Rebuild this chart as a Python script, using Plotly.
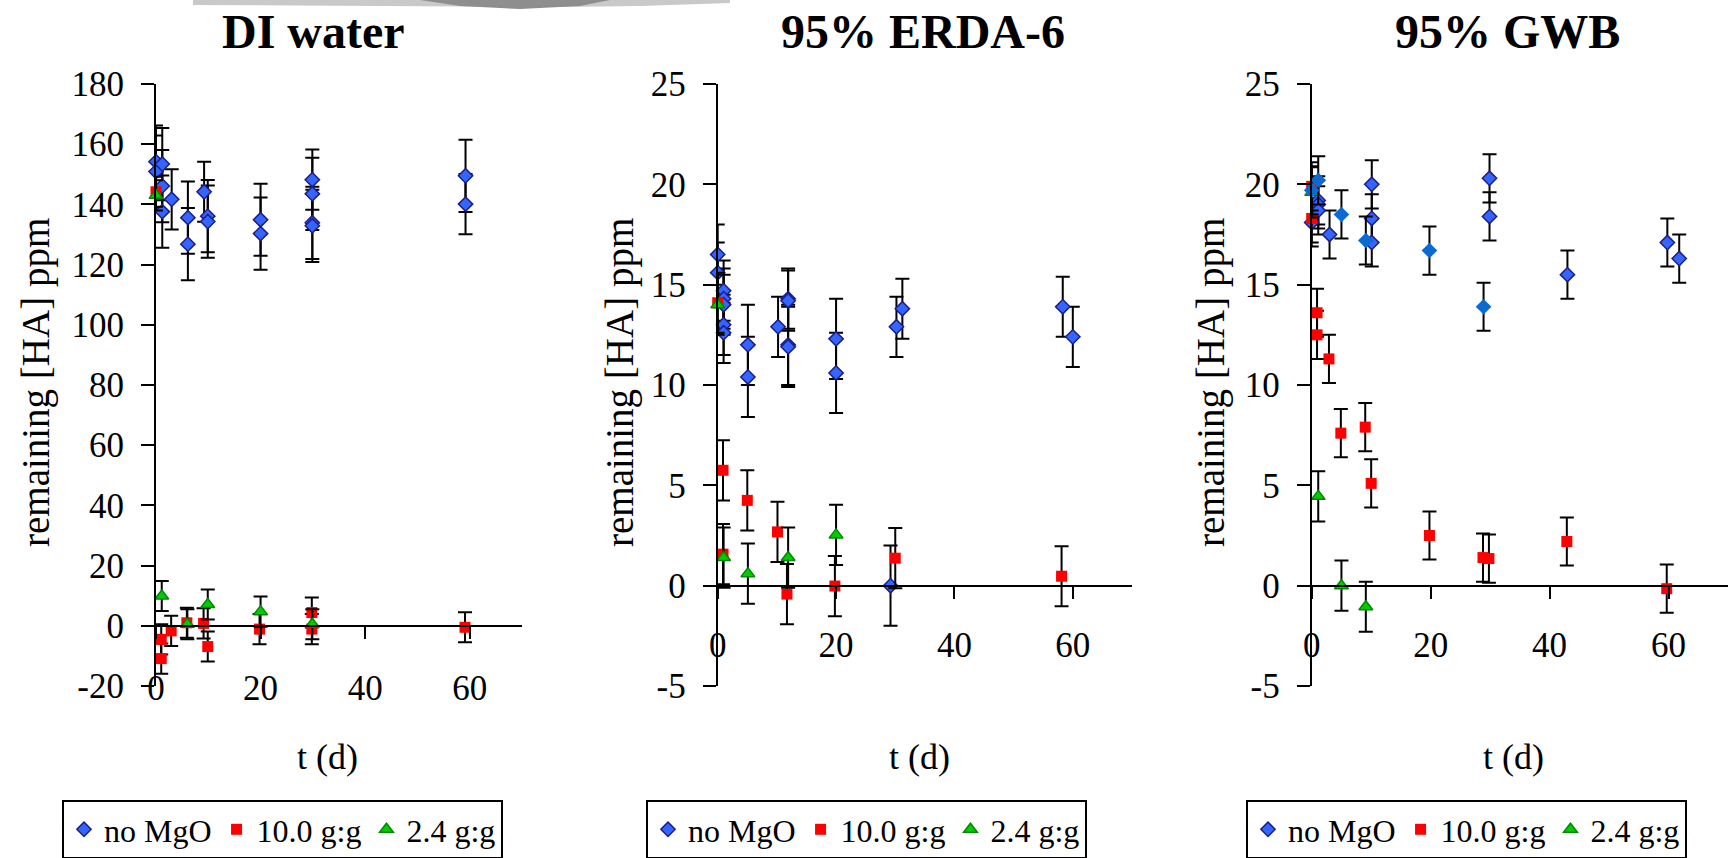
import plotly.graph_objects as go

W, H = 1732, 858
FONT = "Liberation Serif"

# ---------------- data ----------------
# DI water
di_nomgo_t = [0, 0, 1.2, 1.2, 1.2, 3.0, 6.1, 6.1, 9.2, 9.9, 9.9, 20, 20, 29.9, 29.9, 29.9, 29.9, 59.2, 59.2]
di_nomgo_v = [154.2, 150.9, 153.4, 146.1, 137.6, 141.7, 135.6, 126.8, 144.2, 136.1, 134.3, 134.9, 130.3, 148.2, 143.5, 133.9, 132.9, 149.5, 140.1]
di_nomgo_e = [12, 12, 12, 12, 12, 10, 12, 12, 10, 12, 12, 12, 12, 10, 12, 12, 12, 12, 10]
di_m10_t = [0, 1.0, 1.0, 2.9, 5.9, 9.1, 9.9, 19.8, 29.8, 29.8, 59.1]
di_m10_v = [144.2, -4.5, -10.9, -1.7, 1.0, 0.8, -6.9, -1.1, 4.4, -1.1, -0.5]
di_m10_e = [5, 5, 5, 5, 5, 5, 5, 5, 5, 5, 5]
di_m24_t = [0, 1.1, 6.0, 9.9, 20, 29.9]
di_m24_v = [143.0, 9.9, 0.5, 7.1, 4.7, 0.5]
di_m24_e = [5, 5, 5, 5, 5, 5]

# 95% ERDA-6
er_nomgo_t = [0, 0, 1.0, 1.0, 1.0, 1.0, 1.0, 5.1, 5.1, 10.2, 11.9, 11.9, 11.9, 11.9, 20, 20, 29.2, 30.2, 31.2, 58.3, 60]
er_nomgo_v = [16.5, 15.6, 14.7, 14.3, 14.0, 13.0, 12.6, 12.0, 10.4, 12.9, 14.3, 14.2, 12.0, 11.9, 12.3, 10.6, 0.0, 12.9, 13.8, 13.9, 12.4]
er_nomgo_e = [1.5, 1.5, 1.5, 1.5, 1.5, 1.5, 1.5, 2, 2, 1.5, 1.5, 1.5, 2, 2, 2, 2, 2, 1.5, 1.5, 1.5, 1.5]
er_m10_t = [0, 0.9, 0.9, 5.0, 10.1, 11.7, 19.8, 30.0, 58.1]
er_m10_v = [14.1, 5.75, 1.57, 4.25, 2.68, -0.42, -0.02, 1.37, 0.47]
er_m10_e = [1.5, 1.5, 1.5, 1.5, 1.5, 1.5, 1.5, 1.5, 1.5]
er_m24_t = [0, 1.0, 5.1, 11.9, 20]
er_m24_v = [14.0, 1.4, 0.6, 1.4, 2.53]
er_m24_e = [1.5, 1.5, 1.5, 1.5, 1.5]

# 95% GWB
gw_nomgo_t = [0, 1.1, 1.1, 1.1, 3.0, 10.1, 10.1, 10.1, 29.9, 29.9, 43.0, 59.8, 61.8]
gw_nomgo_v = [18.1, 19.2, 19.0, 18.7, 17.5, 20.0, 18.3, 17.1, 20.3, 18.4, 15.5, 17.1, 16.3]
gw_nomgo_e = [1.2, 1.2, 1.2, 1.2, 1.2, 1.2, 1.2, 1.2, 1.2, 1.2, 1.2, 1.2, 1.2]
gw_nomgo2_t = [0, 1.1, 5.0, 9.1, 19.8, 28.9]
gw_nomgo2_v = [19.7, 20.2, 18.5, 17.2, 16.7, 13.9]
gw_nomgo2_e = [1.2, 1.2, 1.2, 1.2, 1.2, 1.2]
gw_m10_t = [0, 0, 0.9, 0.9, 2.9, 4.9, 9.0, 10.0, 19.8, 28.8, 29.8, 42.9, 59.7]
gw_m10_v = [19.9, 18.3, 13.6, 12.5, 11.3, 7.6, 7.9, 5.1, 2.5, 1.4, 1.35, 2.2, -0.15]
gw_m10_e = [1.2, 1.2, 1.2, 1.2, 1.2, 1.2, 1.2, 1.2, 1.2, 1.2, 1.2, 1.2, 1.2]
gw_m24_t = [0, 1.1, 5.0, 9.1]
gw_m24_v = [19.6, 4.45, 0.0, -1.05]
gw_m24_e = [1.25, 1.25, 1.25, 1.25]

panel_titles = ["DI water", "95% ERDA-6", "95% GWB"]
series_names = ["no MgO", "10.0 g:g", "2.4 g:g"]
x_ticks = [0, 20, 40, 60]
x_range = [0, 70]
y_ranges = [[-20, 180], [-5, 25], [-5, 25]]
y_tickvals = [[-20, 0, 20, 40, 60, 80, 100, 120, 140, 160, 180],
              [-5, 0, 5, 10, 15, 20, 25],
              [-5, 0, 5, 10, 15, 20, 25]]
y_ticktext = [["-20", "0", "20", "40", "60", "80", "100", "120", "140", "160", "180"],
              ["-5", "0", "5", "10", "15", "20", "25"],
              ["-5", "0", "5", "10", "15", "20", "25"]]
x_title = "t (d)"
y_title = "remaining [HA] ppm"

# ---------------- styling ----------------
MK = {
    "dia": dict(symbol="diamond", size=11, color="#3366FF", line=dict(color="#1C1C8C", width=1.5)),
    "dia2": dict(symbol="diamond", size=12, color="#0A6AD2", line=dict(color="#0A6AD2", width=0)),
    "sq": dict(symbol="square", size=11, color="#FF0000", line=dict(color="#FF0000", width=0)),
    "tri": dict(symbol="triangle-up", size=12, color="#00CC00", line=dict(color="#008800", width=1.5)),
}

# pixel geometry of plot areas
x_px = [(156, 522), (717.7, 1132), (1311.7, 1728)]
y_top_px, y_bot_px = 84, 686
ydom = [1 - y_bot_px / H, 1 - y_top_px / H]
x_label_standoff = [19, 16, 16]

fig = go.Figure()


def err(a):
    return dict(type="data", array=a, visible=True, color="black", thickness=2, width=7)


panels = [
    [(di_nomgo_t, di_nomgo_v, di_nomgo_e, "dia", 0, True),
     (di_m10_t, di_m10_v, di_m10_e, "sq", 1, True),
     (di_m24_t, di_m24_v, di_m24_e, "tri", 2, True)],
    [(er_nomgo_t, er_nomgo_v, er_nomgo_e, "dia", 0, True),
     (er_m10_t, er_m10_v, er_m10_e, "sq", 1, True),
     (er_m24_t, er_m24_v, er_m24_e, "tri", 2, True)],
    [(gw_nomgo_t, gw_nomgo_v, gw_nomgo_e, "dia", 0, True),
     (gw_m10_t, gw_m10_v, gw_m10_e, "sq", 1, True),
     (gw_m24_t, gw_m24_v, gw_m24_e, "tri", 2, True),
     (gw_nomgo2_t, gw_nomgo2_v, gw_nomgo2_e, "dia2", 0, False)],
]

legend_names = ["legend", "legend2", "legend3"]
legend_left_px = [62, 646, 1246]

for i, traces in enumerate(panels):
    sfx = "" if i == 0 else str(i + 1)
    for (t, v, e, mk, si, show) in traces:
        fig.add_trace(go.Scatter(
            x=t, y=v, mode="markers", name=series_names[si],
            marker=MK[mk], error_y=err(e), cliponaxis=False,
            showlegend=show, legend=legend_names[i],
            xaxis="x" + sfx, yaxis="y" + sfx,
        ))

layout = dict(
    width=W, height=H, margin=dict(l=0, r=0, t=0, b=0, pad=0, autoexpand=False),
    paper_bgcolor="white", plot_bgcolor="white",
    font=dict(family=FONT, color="black"),
    annotations=[], shapes=[],
)

for i in range(3):
    sfx = "" if i == 0 else str(i + 1)
    ymin, ymax = y_ranges[i]
    xd = [x_px[i][0] / W, x_px[i][1] / W]
    zero_pos = ydom[0] + (0 - ymin) / (ymax - ymin) * (ydom[1] - ydom[0])
    layout["xaxis" + sfx] = dict(
        domain=xd, range=x_range, anchor="free", position=zero_pos, automargin=False,
        showline=True, linecolor="black", linewidth=2,
        ticks="outside", ticklen=12, tickwidth=2, tickcolor="black",
        tickvals=x_ticks, tickfont=dict(family=FONT, size=35, color="black"),
        ticklabelstandoff=x_label_standoff[i], showgrid=False, zeroline=False,
    )
    layout["yaxis" + sfx] = dict(
        domain=ydom, range=[ymin, ymax], anchor="x" + sfx, automargin=False,
        showline=True, linecolor="black", linewidth=2,
        ticks="outside", ticklen=13, tickwidth=2, tickcolor="black",
        tickvals=y_tickvals[i], ticktext=y_ticktext[i],
        tickfont=dict(family=FONT, size=35, color="black"),
        ticklabelstandoff=10, showgrid=False, zeroline=False,
    )
    layout[legend_names[i]] = dict(
        x=legend_left_px[i] / W, y=1 - 800 / H, xanchor="left", yanchor="top",
        xref="container", yref="container",
        orientation="h", bordercolor="black", borderwidth=2, bgcolor="white",
        font=dict(family=FONT, size=32, color="black"), itemsizing="trace",
    )

title_x_px = [313, 923, 1507]
xt_x_px = [327, 920, 1513]
yt_x_px = [36, 620, 1211]
for i in range(3):
    layout["annotations"].append(dict(
        text="<b>" + panel_titles[i] + "</b>", x=title_x_px[i] / W, y=1 - 31 / H,
        xref="paper", yref="paper", showarrow=False, xanchor="center", yanchor="middle",
        font=dict(family=FONT, size=48, color="black")))
    layout["annotations"].append(dict(
        text=x_title, x=xt_x_px[i] / W, y=1 - 757 / H,
        xref="paper", yref="paper", showarrow=False, xanchor="center", yanchor="middle",
        font=dict(family=FONT, size=36, color="black")))
    layout["annotations"].append(dict(
        text=y_title, x=yt_x_px[i] / W, y=1 - 383 / H, textangle=-90,
        xref="paper", yref="paper", showarrow=False, xanchor="center", yanchor="middle",
        font=dict(family=FONT, size=39, color="black")))


def ppath(pts):
    s = ""
    for k, (px, py) in enumerate(pts):
        s += ("M" if k == 0 else "L") + f"{px / W:.5f},{1 - py / H:.5f} "
    return s + "Z"


# decorative grey swoosh at the top of the slide
layout["shapes"].append(dict(type="path", xref="paper", yref="paper",
                             path=ppath([(193, 0), (730, 0), (730, 3), (640, 6), (560, 7), (193, 5)]),
                             fillcolor="#C9C9C9", line=dict(width=0)))
layout["shapes"].append(dict(type="path", xref="paper", yref="paper",
                             path=ppath([(420, 0), (610, 0), (580, 6), (520, 9), (460, 6)]),
                             fillcolor="#8E8E8E", line=dict(width=0)))

fig.update_layout(**layout)
fig.write_html("out.html")
